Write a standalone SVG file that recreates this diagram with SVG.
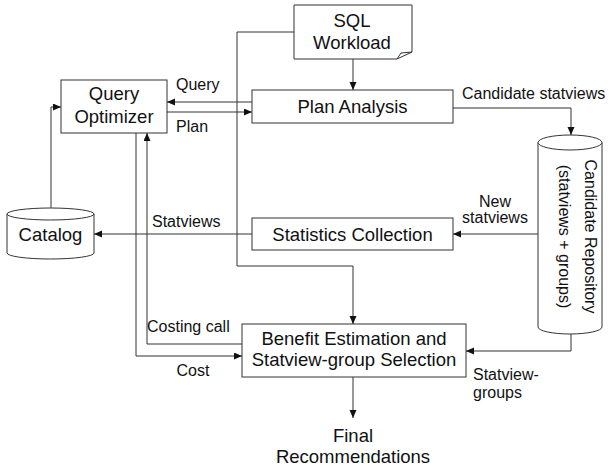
<svg xmlns="http://www.w3.org/2000/svg" width="610" height="468" viewBox="0 0 610 468">
<style>
.box{fill:#fff;stroke:#333;stroke-width:1}
.ln{fill:none;stroke:#333;stroke-width:1}
.nt{font-family:"Liberation Sans",Arial,sans-serif;font-size:18.5px;fill:#111;text-anchor:middle}
.rt{font-family:"Liberation Sans",Arial,sans-serif;font-size:16px;fill:#111;text-anchor:middle}
.lb{font-family:"Liberation Sans",Arial,sans-serif;font-size:16px;fill:#111}
</style>
<defs>
<marker id="ah" markerUnits="userSpaceOnUse" markerWidth="9" markerHeight="8" refX="8" refY="3.5" orient="auto">
<path d="M0,0 L8,3.5 L0,7 z" fill="#111"/>
</marker>
</defs>
<rect width="610" height="468" fill="#fff"/>
<g id="connectors">
<path class="ln" d="M353,59 V90" marker-end="url(#ah)"/>
<path class="ln" d="M252,102 H167" marker-end="url(#ah)"/>
<path class="ln" d="M167,112 H252" marker-end="url(#ah)"/>
<path class="ln" d="M453,108 H571 V135" marker-end="url(#ah)"/>
<path class="ln" d="M538,234 H453" marker-end="url(#ah)"/>
<path class="ln" d="M252,234 H94" marker-end="url(#ah)"/>
<path class="ln" d="M51,208 V107 H61" marker-end="url(#ah)"/>
<path class="ln" d="M294,32 H237 V266 H353 V324" marker-end="url(#ah)"/>
<path class="ln" d="M571,334 V351 H466" marker-end="url(#ah)"/>
<path class="ln" d="M242,344 H147 V133" marker-end="url(#ah)"/>
<path class="ln" d="M136,133 V356 H242" marker-end="url(#ah)"/>
<path class="ln" d="M353,377 V418" marker-end="url(#ah)"/>
<text class="lb" x="176" y="90">Query</text>
<text class="lb" x="176" y="132">Plan</text>
<text class="lb" x="462" y="99">Candidate statviews</text>
<text class="lb" x="495" y="207" text-anchor="middle">New</text>
<text class="lb" x="495" y="223" text-anchor="middle">statviews</text>
<text class="lb" x="152" y="227">Statviews</text>
<text class="lb" x="147" y="332">Costing call</text>
<text class="lb" x="193" y="376" text-anchor="middle">Cost</text>
<text class="lb" x="473" y="380">Statview-</text>
<text class="lb" x="473" y="398">groups</text>
</g>
<g id="sql-workload">
<path class="box" d="M294,5 H412 V52 L397,59 H294 Z"/>
<path class="ln" d="M397,59 L401,53 L412,52"/>
<text class="nt" x="352" y="27">SQL</text>
<text class="nt" x="352" y="49">Workload</text>
</g>
<g id="query-optimizer">
<rect class="box" x="61" y="80" width="106" height="53"/>
<text class="nt" x="114" y="100">Query</text>
<text class="nt" x="114" y="123">Optimizer</text>
</g>
<g id="plan-analysis">
<rect class="box" x="252" y="90" width="201" height="33"/>
<text class="nt" x="352.5" y="113">Plan Analysis</text>
</g>
<g id="statistics-collection">
<rect class="box" x="252" y="218" width="201" height="32"/>
<text class="nt" x="352.5" y="241">Statistics Collection</text>
</g>
<g id="benefit-estimation">
<rect class="box" x="242" y="324" width="224" height="53"/>
<text class="nt" x="354" y="345">Benefit Estimation and</text>
<text class="nt" x="354" y="366">Statview-group Selection</text>
</g>
<g id="catalog">
<path class="box" d="M7,214 V253 A43.5,6 0 0 0 94,253 V214"/>
<ellipse class="box" cx="50.5" cy="214" rx="43.5" ry="6"/>
<text class="nt" x="50.5" y="241">Catalog</text>
</g>
<g id="candidate-repository">
<path class="box" d="M538,142.5 V327 A32,7 0 0 0 602,327 V142.5"/>
<ellipse class="box" cx="570" cy="142.5" rx="32" ry="7.5"/>
<text class="rt" transform="translate(585,236.5) rotate(90)" x="0" y="0">Candidate Repository</text>
<text class="rt" transform="translate(559,236.5) rotate(90)" x="0" y="0">(statviews + groups)</text>
</g>
<g id="final-recommendations">
<text class="nt" x="353" y="442">Final</text>
<text class="nt" x="353" y="463">Recommendations</text>
</g>
</svg>
